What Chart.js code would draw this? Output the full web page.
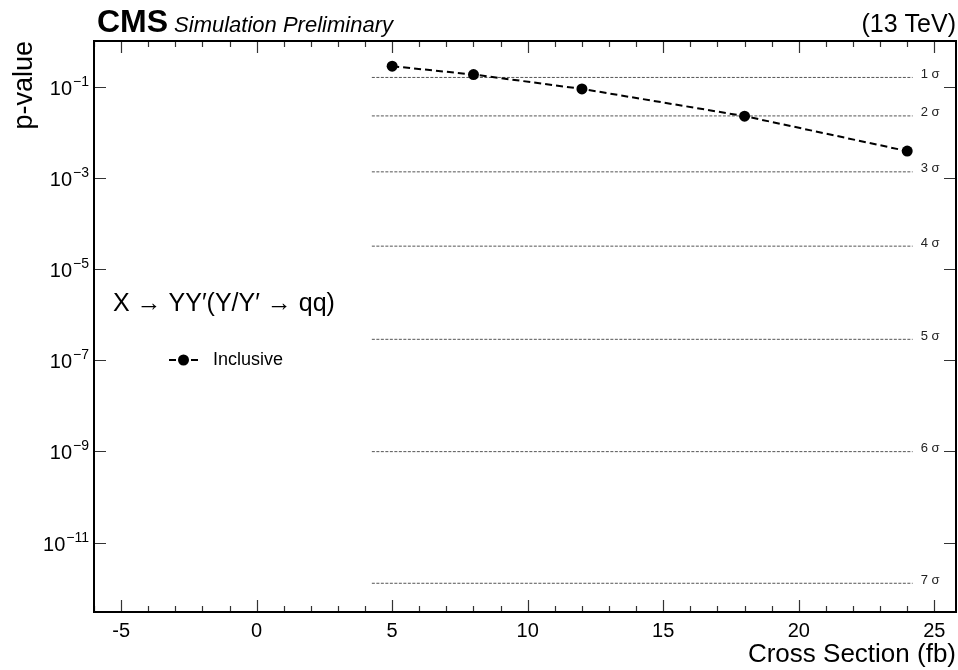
<!DOCTYPE html>
<html>
<head>
<meta charset="utf-8">
<script src="https://cdn.jsdelivr.net/npm/chart.js@4.4.1/dist/chart.umd.min.js"></script>
<style>
  html, body { margin: 0; padding: 0; background: #fff; }
  canvas { display: block; }
</style>
</head>
<body>
<canvas id="pvalue-chart" width="958" height="670"></canvas>
<script>
const FONT = '"Liberation Sans", Arial, Helvetica, "DejaVu Sans", sans-serif'

// injected signal cross sections and observed local p-values
const cross_sections = [5, 8, 12, 18, 24]
const p_values = [0.28, 0.184, 0.089, 0.0225, 0.00385]

// one-sided p-values for 1..7 sigma
const sigma_names = ['1 σ', '2 σ', '3 σ', '4 σ', '5 σ', '6 σ', '7 σ']
const sigma_p = [1.587e-1, 2.275e-2, 1.35e-3, 3.167e-5, 2.867e-7, 9.866e-10, 1.28e-12]
const sigma_from = 4.25
const sigma_to = 24.2

const x_ticks = [-5, 0, 5, 10, 15, 20, 25]
const y_ticks = [1e-1, 1e-3, 1e-5, 1e-7, 1e-9, 1e-11]
const y_tick_exps = ['\u22121', '\u22123', '\u22125', '\u22127', '\u22129', '\u221211']

const datasets = [{
    label: 'Inclusive',
    data: cross_sections.map((x, i) => ({ x: x, y: p_values[i] })),
    showLine: true,
    borderColor: '#000',
    backgroundColor: '#000',
    borderWidth: 2,
    borderDash: [7, 4],
    pointRadius: 5.5,
    pointBorderWidth: 0,
    order: 0
}]

sigma_p.forEach((p, i) => {
    datasets.push({
        label: sigma_names[i],
        data: [{ x: sigma_from, y: p }, { x: sigma_to, y: p }],
        showLine: true,
        borderColor: '#555',
        borderWidth: 1,
        borderDash: [3, 1.5],
        pointRadius: 0,
        order: 1
    })
})

// frame, inward ticks, labels and the legend, ROOT style
const rootStyle = {
    id: 'rootStyle',
    afterDatasetsDraw(chart) {
        const ctx = chart.ctx
        const area = chart.chartArea
        const xs = chart.scales.x
        const ys = chart.scales.y

        ctx.save()
        // sigma labels
        ctx.fillStyle = '#222'
        ctx.font = '13px ' + FONT
        ctx.textAlign = 'left'
        ctx.textBaseline = 'middle'
        sigma_p.forEach((p, i) => {
            ctx.fillText(sigma_names[i], xs.getPixelForValue(sigma_to) + 8, ys.getPixelForValue(p) - 3)
        })

        // y tick labels with real superscripts
        ctx.fillStyle = '#000'
        ys.ticks.forEach((t, i) => {
            const py = ys.getPixelForValue(t.value)
            ctx.textAlign = 'right'
            ctx.textBaseline = 'alphabetic'
            ctx.font = '14px ' + FONT
            const ew = ctx.measureText(y_tick_exps[i]).width
            ctx.fillText(y_tick_exps[i], area.left - 5, py - 1)
            ctx.font = '20px ' + FONT
            ctx.fillText('10', area.left - 5 - ew - 1, py + 8)
        })

        // ticks
        ctx.strokeStyle = '#333'
        ctx.lineWidth = 1.2
        ctx.beginPath()
        for (let v = Math.ceil(xs.min); v <= xs.max; v++) {
            const px = Math.round(xs.getPixelForValue(v)) + 0.5
            const len = x_ticks.includes(v) ? 12 : 6
            ctx.moveTo(px, area.bottom); ctx.lineTo(px, area.bottom - len)
            ctx.moveTo(px, area.top); ctx.lineTo(px, area.top + len)
        }
        ys.ticks.forEach(t => {
            const py = Math.round(ys.getPixelForValue(t.value)) + 0.5
            ctx.moveTo(area.left, py); ctx.lineTo(area.left + 12, py)
            ctx.moveTo(area.right, py); ctx.lineTo(area.right - 12, py)
        })
        ctx.stroke()

        // frame
        ctx.strokeStyle = '#000'
        ctx.lineWidth = 2
        ctx.strokeRect(area.left, area.top, area.right - area.left, area.bottom - area.top)

        // header
        ctx.fillStyle = '#000'
        ctx.textBaseline = 'alphabetic'
        ctx.textAlign = 'left'
        ctx.font = 'bold 32px ' + FONT
        ctx.fillText('CMS', 97, 32)
        const w = ctx.measureText('CMS').width
        ctx.font = 'italic 22px ' + FONT
        ctx.fillText('Simulation Preliminary', 97 + w + 6, 32)
        ctx.textAlign = 'right'
        ctx.font = '25px ' + FONT
        ctx.fillText('(13 TeV)', area.right, 32)

        // process label
        ctx.textAlign = 'left'
        ctx.font = '25px ' + FONT
        ctx.fillText('X → YY′(Y/Y′ → qq)', 113, 311)

        // legend
        const ly = 360
        ctx.strokeStyle = '#000'
        ctx.lineWidth = 2
        ctx.setLineDash([7, 4])
        ctx.beginPath()
        ctx.moveTo(169, ly); ctx.lineTo(198, ly)
        ctx.stroke()
        ctx.setLineDash([])
        ctx.beginPath()
        ctx.arc(183.5, ly, 5.5, 0, Math.PI * 2)
        ctx.fill()
        ctx.font = '18px ' + FONT
        ctx.textBaseline = 'middle'
        ctx.fillText('Inclusive', 213, ly)
        ctx.restore()
    }
}

const config = {
    type: 'scatter',
    data: { datasets: datasets },
    plugins: [rootStyle],
    options: {
        responsive: false,
        animation: false,
        layout: { autoPadding: false, padding: { top: 41, right: 2, left: 0, bottom: 0 } },
        plugins: {
            legend: { display: false },
            tooltip: { enabled: false }
        },
        scales: {
            x: {
                type: 'linear',
                min: -6,
                max: 25.8,
                afterBuildTicks: axis => { axis.ticks = x_ticks.map(v => ({ value: v })) },
                afterFit: axis => {
                    axis.height = 58
                    axis.paddingLeft = 0
                    axis.paddingRight = 0
                },
                grid: { display: false, drawTicks: false },
                border: { display: false },
                ticks: { color: '#000', padding: 7, font: { family: FONT, size: 20 }, maxRotation: 0 },
                title: {
                    display: true,
                    text: 'Cross Section (fb)',
                    align: 'end',
                    color: '#000',
                    font: { family: FONT, size: 26 },
                    padding: { top: 0, bottom: 0 }
                }
            },
            y: {
                type: 'logarithmic',
                min: Math.pow(10, -12.5),
                max: 1,
                afterBuildTicks: axis => { axis.ticks = y_ticks.map(v => ({ value: v })) },
                afterFit: axis => {
                    axis.width = 94
                    axis.paddingTop = 0
                    axis.paddingBottom = 0
                },
                grid: { display: false, drawTicks: false },
                border: { display: false },
                ticks: { display: false },
                title: {
                    display: true,
                    text: 'p-value',
                    align: 'end',
                    color: '#000',
                    font: { family: FONT, size: 27 },
                    padding: { top: 8, bottom: 0 }
                }
            }
        }
    }
}

const pvalue_chart = new Chart(document.getElementById('pvalue-chart').getContext('2d'), config)
</script>
</body>
</html>
